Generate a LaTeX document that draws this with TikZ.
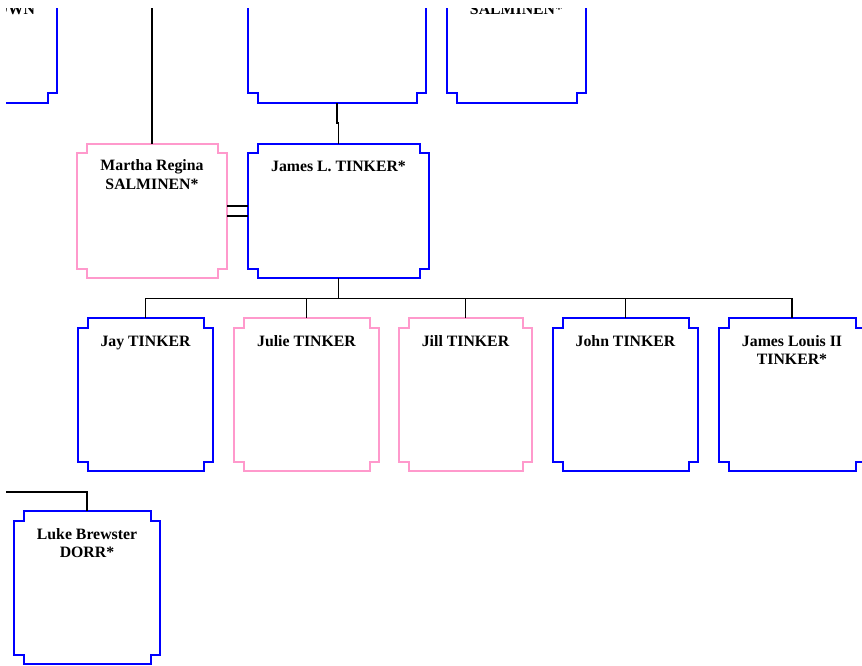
\documentclass[tikz,border=0pt]{standalone}
\usepackage{fontspec}
\setmainfont{Liberation Serif}
\definecolor{mblue}{RGB}{0,0,255}
\definecolor{fpink}{RGB}{255,153,204}
\tikzset{
  cardbase/.style={draw=none, rectangle, outer sep=0pt, inner sep=0pt},
  male/.style={draw=mblue, line width=2pt},
  female/.style={draw=fpink, line width=2pt},
  link/.style={draw=black, line width=1.7pt},
  nametext/.style={font=\bfseries\fontsize{15.8}{18}\selectfont, align=center, inner sep=0pt, outer sep=0pt, text=black},
}
\newcommand\nt{9.5pt}
\newcommand\famcard[6]{%
  \node[cardbase, minimum width={(#4)-(#2)}, minimum height={(#5)-(#3)}] (#1) at ({((#2)+(#4))/2},{((#3)+(#5))/2}) {};
  \draw[#6] ([xshift=\nt]#1.north west) -- ([xshift=-\nt]#1.north east) -- ([xshift=-\nt,yshift=-\nt]#1.north east) -- ([yshift=-\nt]#1.north east) -- ([yshift=\nt]#1.south east) -- ([xshift=-\nt,yshift=\nt]#1.south east) -- ([xshift=-\nt]#1.south east) -- ([xshift=\nt]#1.south west) -- ([xshift=\nt,yshift=\nt]#1.south west) -- ([yshift=\nt]#1.south west) -- ([yshift=-\nt]#1.north west) -- ([xshift=\nt,yshift=-\nt]#1.north west) -- cycle;
}
\newcommand\capstrut{\rule{0pt}{11pt}}
\begin{document}
\begin{tikzpicture}[x=1pt,y=-1pt]
\useasboundingbox (0,0) rectangle (862,666);
\clip (6,9) rectangle (862,666);
% top row (cut off)
\famcard{tl}{-75}{-50}{57}{103}{male}
\famcard{tc}{248}{-50}{426}{103}{male}
\famcard{tr}{447}{-50}{586}{103}{male}
\node[nametext, anchor=base east] (tl-t) at (35,14.5) {BROWN};
\node[nametext, anchor=base] (tr-t) at (516.5,14.5) {SALMINEN*};
% couple
\famcard{ma}{77}{144}{227}{278}{female}
\famcard{jl}{248}{144}{429}{278}{male}
\node[nametext, anchor=north] (ma-t) at ([yshift=-16pt]ma.north) {\capstrut Martha Regina\\SALMINEN*};
\node[nametext, anchor=north] (jl-t) at ([yshift=-16.5pt]jl.north) {\capstrut James L. TINKER*};
% children
\famcard{jay}{78}{318}{213}{471}{male}
\famcard{julie}{234}{318}{379}{471}{female}
\famcard{jill}{399}{318}{532}{471}{female}
\famcard{john}{553}{318}{698}{471}{male}
\famcard{jlii}{719}{318}{865}{471}{male}
\node[nametext, anchor=north] (jay-t) at ([yshift=-17pt]jay.north) {\capstrut Jay TINKER};
\node[nametext, anchor=north] (julie-t) at ([yshift=-17pt]julie.north) {\capstrut Julie TINKER};
\node[nametext, anchor=north] (jill-t) at ([yshift=-17pt]jill.north) {\capstrut Jill TINKER};
\node[nametext, anchor=north] (john-t) at ([yshift=-17pt]john.north) {\capstrut John TINKER};
\node[nametext, anchor=north] (jlii-t) at ([yshift=-17pt]jlii.north) {\capstrut James Louis II\\TINKER*};
% Luke
\famcard{luke}{14}{511}{160}{664}{male}
\node[nametext, anchor=north] (luke-t) at ([yshift=-17pt]luke.north) {\capstrut Luke Brewster\\DORR*};
% connectors
\coordinate (mp) at (152,-20);
\draw[link] (mp) -- (ma.north);
\draw[link] (tc.south) -- ++(0,20) -| (jl.north);
\draw[link] ([yshift=5pt]ma.east) -- ([yshift=5pt]jl.west);
\draw[link] ([yshift=-5pt]ma.east) -- ([yshift=-5pt]jl.west);
\foreach \c in {jay,julie,jill,john,jlii}{
  \draw[link] (jl.south) -- ++(0,20.5) -| (\c.north);
}
\coordinate (lp) at (-10,492);
\draw[link] (lp) -| (luke.north);
\end{tikzpicture}
\end{document}
